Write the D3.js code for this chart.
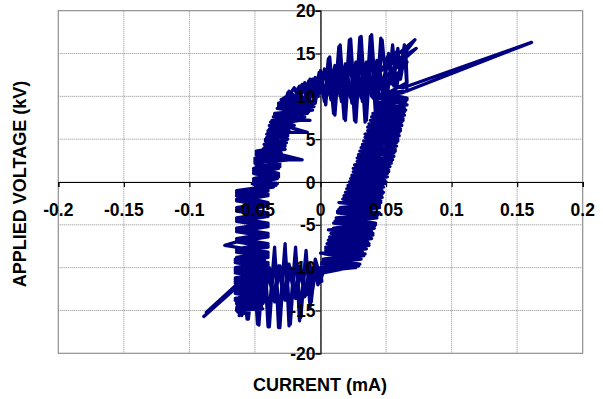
<!DOCTYPE html>
<html><head><meta charset="utf-8">
<script src="https://cdn.jsdelivr.net/npm/d3@7"></script>
<style>html,body{margin:0;padding:0;background:#fff;}svg{display:block;}</style>
</head><body>
<svg id="chart" width="603" height="399"></svg>
<script>
// Axis ticks
const xTicks = [-0.2, -0.15, -0.1, -0.05, 0, 0.05, 0.1, 0.15, 0.2];
const xTickLabels = ["-0.2", "-0.15", "-0.1", "-0.05", "0", "0.05", "0.1", "0.15", "0.2"];
const yTicks = [-20, -15, -10, -5, 0, 5, 10, 15, 20];
const yTickLabels = ["-20", "-15", "-10", "-5", "0", "5", "10", "15", "20"];
const xTitle = "CURRENT (mA)";
const yTitle = "APPLIED VOLTAGE (kV)";

const loop1 = [
 [-0.030,8.6],[-0.024,10.6],[-0.020,8.4],[-0.016,11.2],[-0.012,8.6],[-0.008,12.0],[-0.004,9.2],[0.000,13.0],[0.004,9.0],[0.007,14.6],[0.011,7.8],[0.015,16.0],[0.019,7.2],[0.023,16.7],[0.027,7.0],[0.031,17.0],[0.035,7.2],[0.039,17.2],[0.043,8.0],[0.047,16.6],[0.051,10.0],[0.055,16.0],[0.058,11.0],[0.064,16.0],[0.066,10.6],
 [0.047,10.4],[0.066,9.8],[0.043,9.2],[0.064,8.6],[0.040,8.0],[0.063,7.4],[0.037,6.8],[0.061,6.2],[0.034,5.6],[0.059,5.0],[0.032,4.4],[0.057,3.8],[0.029,3.2],[0.055,2.6],[0.026,2.0],[0.052,1.4],[0.024,0.8],[0.049,0.2],[0.021,-0.4],[0.047,-1.0],[0.018,-1.6],[0.046,-2.2],[0.014,-2.4],[0.045,-2.8],[0.013,-3.4],[0.043,-4.0],[0.011,-4.6],[0.041,-5.2],[0.006,-5.6],[0.039,-5.8],[0.007,-6.4],[0.036,-7.0],[0.004,-7.6],[0.032,-8.2],[0.000,-8.3],[0.030,-8.8],[0.001,-9.4],[0.026,-10.0],[0.000,-10.4],
 [-0.002,-12.0],[-0.004,-9.4],[-0.007,-14.0],[-0.011,-8.4],[-0.015,-15.8],[-0.019,-7.8],[-0.023,-16.6],[-0.027,-7.5],[-0.031,-17.0],[-0.035,-7.8],[-0.039,-16.9],[-0.043,-8.6],[-0.047,-16.7],[-0.051,-10.0],[-0.055,-16.0],[-0.059,-11.0],[-0.063,-15.2],
 [-0.045,-14.6],[-0.064,-14.0],[-0.043,-13.4],[-0.065,-12.8],[-0.042,-12.2],[-0.065,-11.6],[-0.041,-11.0],[-0.065,-10.4],[-0.040,-9.8],[-0.065,-9.2],[-0.040,-8.6],[-0.064,-8.0],[-0.040,-7.4],[-0.064,-6.8],[-0.040,-6.2],[-0.064,-5.6],[-0.040,-5.0],[-0.064,-4.4],[-0.040,-3.8],[-0.064,-3.2],[-0.040,-2.6],[-0.064,-2.0],[-0.040,-1.4],[-0.064,-1.0],[-0.034,-0.4],[-0.051,0.2],[-0.032,0.8],[-0.051,1.4],[-0.031,2.0],[-0.050,2.6],[-0.014,2.6],[-0.030,3.2],[-0.049,3.6],[-0.027,4.2],[-0.042,4.8],[-0.026,5.4],[-0.040,5.8],[-0.010,5.8],[-0.024,6.4],[-0.038,7.0],[-0.014,7.4],[-0.035,8.0],[-0.008,8.4],[-0.032,8.8],[-0.004,9.2],[-0.030,9.6]];

const loop2 = [
 [-0.028,9.2],[-0.020,11.0],[-0.016,9.4],[-0.012,11.6],[-0.008,9.8],[-0.004,12.2],[0.000,10.4],[0.003,13.2],[0.007,10.2],[0.011,13.6],[0.015,10.0],[0.019,13.8],[0.023,9.8],[0.027,14.0],[0.031,9.8],[0.035,14.0],[0.039,10.0],[0.043,14.2],[0.047,10.6],[0.051,14.6],[0.055,11.4],[0.058,15.2],[0.056,11.2],[0.063,11.0],[0.161,16.3],[0.062,10.4],
 [0.045,10.0],[0.065,9.4],[0.042,8.8],[0.064,8.2],[0.039,7.6],[0.062,7.0],[0.036,6.4],[0.060,5.8],[0.034,5.2],[0.058,4.6],[0.031,4.0],[0.056,3.4],[0.028,2.8],[0.054,2.2],[0.025,1.6],[0.051,1.0],[0.023,0.4],[0.049,-0.2],[0.020,-0.8],[0.047,-1.4],[0.017,-2.0],[0.045,-2.6],[0.014,-3.2],[0.044,-3.8],[0.012,-4.4],[0.042,-5.0],[0.009,-5.6],[0.040,-6.2],[0.006,-6.8],[0.037,-7.4],[0.004,-8.0],[0.033,-8.6],[0.002,-9.2],[0.029,-9.8],[0.002,-10.6],
 [-0.001,-11.8],[-0.003,-9.6],[-0.006,-12.6],[-0.007,-10.0],[-0.011,-13.2],[-0.015,-10.2],[-0.019,-13.6],[-0.023,-10.0],[-0.027,-13.8],[-0.031,-9.8],[-0.035,-14.0],[-0.039,-10.0],[-0.043,-14.0],[-0.047,-10.6],[-0.051,-14.6],[-0.054,-11.0],[-0.056,-11.2],[-0.089,-15.7],[-0.055,-11.0],[-0.087,-15.2],[-0.054,-10.6],[-0.062,-15.6],
 [-0.044,-14.2],[-0.065,-13.6],[-0.043,-13.0],[-0.065,-12.4],[-0.041,-11.8],[-0.065,-11.2],[-0.040,-10.6],[-0.065,-10.0],[-0.040,-9.4],[-0.064,-8.8],[-0.040,-8.2],[-0.073,-7.4],[-0.064,-7.0],[-0.040,-6.4],[-0.064,-5.8],[-0.040,-5.2],[-0.064,-4.6],[-0.040,-4.0],[-0.064,-3.4],[-0.040,-2.8],[-0.064,-2.2],[-0.040,-1.6],[-0.064,-1.2],[-0.036,-0.6],[-0.051,0.0],[-0.032,0.6],[-0.051,1.2],[-0.031,1.8],[-0.048,1.6],[-0.050,2.4],[-0.030,3.0],[-0.049,3.4],[-0.027,3.8],[-0.043,4.4],[-0.025,5.0],[-0.041,5.6],[-0.024,6.0],[-0.039,6.6],[-0.016,7.2],[-0.008,7.2],[-0.036,7.6],[-0.010,8.0],[-0.033,8.6],[-0.005,8.8],[-0.030,9.4]];

const loop3 = [
 [-0.026,9.8],[-0.025,10.4],[-0.021,9.0],[-0.017,11.0],[-0.013,9.0],[-0.009,11.8],[-0.005,9.8],[-0.001,12.8],[0.003,9.4],[0.006,14.4],[0.010,8.0],[0.014,15.8],[0.018,7.4],[0.022,16.6],[0.026,7.2],[0.030,16.9],[0.034,7.0],[0.038,17.0],[0.042,7.8],[0.046,16.8],[0.044,11.0],[0.072,16.6],[0.040,12.4],[0.073,15.6],[0.054,13.0],[0.066,14.0],
 [0.046,10.2],[0.066,9.6],[0.043,9.0],[0.065,8.4],[0.040,7.8],[0.063,7.2],[0.037,6.6],[0.061,6.0],[0.035,5.4],[0.059,4.8],[0.032,4.2],[0.057,3.6],[0.029,3.0],[0.054,2.4],[0.027,1.8],[0.052,1.2],[0.024,0.6],[0.050,0.0],[0.021,-0.6],[0.048,-1.2],[0.018,-1.8],[0.046,-2.4],[0.015,-3.0],[0.045,-3.6],[0.012,-4.2],[0.042,-4.8],[0.010,-5.4],[0.040,-6.0],[0.007,-6.6],[0.037,-7.2],[0.004,-7.8],[0.034,-8.4],[0.002,-9.0],[0.030,-9.6],[0.000,-10.0],
 [0.001,-11.6],[-0.004,-9.0],[-0.008,-14.6],[-0.011,-8.0],[-0.016,-16.2],[-0.019,-7.6],[-0.024,-16.8],[-0.027,-7.2],[-0.032,-17.0],[-0.035,-7.6],[-0.040,-16.9],[-0.043,-8.8],[-0.048,-16.6],[-0.051,-10.2],[-0.056,-16.0],[-0.059,-11.6],[-0.064,-14.8],
 [-0.045,-14.4],[-0.065,-13.8],[-0.043,-13.2],[-0.065,-12.6],[-0.042,-12.0],[-0.065,-11.4],[-0.041,-10.8],[-0.065,-10.2],[-0.040,-9.6],[-0.065,-9.0],[-0.040,-8.4],[-0.064,-7.8],[-0.040,-7.2],[-0.064,-6.6],[-0.040,-6.0],[-0.064,-5.4],[-0.040,-4.8],[-0.064,-4.2],[-0.040,-3.6],[-0.064,-3.0],[-0.040,-2.4],[-0.064,-1.6],[-0.040,-1.0],[-0.052,-0.2],[-0.033,0.4],[-0.051,1.0],[-0.032,1.6],[-0.050,2.2],[-0.022,2.6],[-0.031,2.8],[-0.049,3.2],[-0.029,3.8],[-0.043,4.0],[-0.026,4.6],[-0.041,5.2],[-0.025,5.6],[-0.040,5.5],[-0.039,6.2],[-0.020,6.6],[-0.037,7.2],[-0.012,7.6],[-0.034,8.0],[-0.006,8.4],[-0.032,9.0],[-0.004,9.4],[-0.026,9.8]];

const loop4 = [
 [-0.030,9.6],[-0.022,10.4],[-0.018,9.4],[-0.014,11.4],[-0.010,9.6],[-0.006,12.0],[-0.002,10.0],[0.004,13.0],[0.008,9.6],[0.012,13.4],[0.016,9.4],[0.020,13.2],[0.024,9.2],[0.028,13.6],[0.032,9.4],[0.036,13.8],[0.040,9.8],[0.044,14.0],[0.048,10.8],[0.052,15.0],[0.055,11.4],[0.059,15.6],[0.061,12.0],[0.065,15.4],[0.066,11.6],
 [0.044,9.8],[0.066,9.0],[0.042,8.4],[0.064,7.8],[0.038,7.2],[0.062,6.6],[0.036,6.0],[0.060,5.4],[0.033,4.8],[0.058,4.2],[0.030,3.6],[0.056,3.0],[0.028,2.4],[0.053,1.8],[0.025,1.2],[0.051,0.6],[0.022,0.0],[0.048,-0.6],[0.019,-1.2],[0.047,-1.8],[0.016,-2.4],[0.045,-3.0],[0.013,-3.6],[0.043,-4.2],[0.010,-4.8],[0.041,-5.4],[0.008,-6.0],[0.039,-6.6],[0.005,-7.2],[0.035,-7.8],[0.003,-8.4],[0.031,-9.0],[0.001,-9.6],[0.027,-10.0],[0.003,-10.2],
 [-0.002,-12.0],[-0.004,-9.8],[-0.008,-12.8],[-0.008,-9.6],[-0.012,-13.4],[-0.016,-9.8],[-0.020,-13.4],[-0.024,-9.6],[-0.028,-13.6],[-0.032,-9.8],[-0.036,-13.8],[-0.040,-10.2],[-0.044,-14.2],[-0.048,-10.6],[-0.052,-14.8],[-0.056,-11.4],[-0.060,-15.6],[-0.064,-15.0],
 [-0.044,-14.8],[-0.064,-14.2],[-0.044,-13.6],[-0.065,-13.0],[-0.042,-12.4],[-0.065,-11.8],[-0.041,-11.2],[-0.065,-10.6],[-0.040,-10.0],[-0.065,-9.4],[-0.040,-8.8],[-0.064,-8.2],[-0.040,-7.6],[-0.064,-7.0],[-0.040,-6.4],[-0.064,-5.8],[-0.040,-5.2],[-0.064,-4.6],[-0.040,-4.0],[-0.064,-3.4],[-0.040,-2.8],[-0.064,-2.2],[-0.040,-1.6],[-0.064,-1.4],[-0.046,-1.0],[-0.033,-0.2],[-0.051,0.4],[-0.032,1.0],[-0.051,1.6],[-0.031,2.2],[-0.050,2.8],[-0.030,3.4],[-0.044,3.8],[-0.027,4.4],[-0.042,5.0],[-0.025,5.4],[-0.040,6.0],[-0.022,6.4],[-0.037,7.0],[-0.013,7.4],[-0.035,7.8],[-0.009,8.2],[-0.033,8.6],[-0.006,9.0],[-0.032,9.2]];

const trace = loop1.concat(loop2, loop3, loop4);

const svg = d3.select("#chart");
const L = 58.3, R = 582.7, T = 10.7, B = 353.3;
const x = d3.scaleLinear().domain([-0.2, 0.2]).range([L, R]);
const y = d3.scaleLinear().domain([-20, 20]).range([B, T]);
const font = "'Liberation Sans', Arial, sans-serif";

svg.append("rect").attr("width", 603).attr("height", 399).attr("fill", "#fff");

// gridlines
const grid = svg.append("g");
grid.selectAll("line.v").data(xTicks).join("line").attr("class","v")
  .attr("x1", d => x(d)).attr("x2", d => x(d)).attr("y1", T).attr("y2", B)
  .attr("stroke", "#8c8c8c").attr("stroke-width", 1).attr("stroke-dasharray", "1,1");
grid.selectAll("line.h").data(yTicks).join("line").attr("class","h")
  .attr("x1", L).attr("x2", R).attr("y1", d => y(d)).attr("y2", d => y(d))
  .attr("stroke", "#8c8c8c").attr("stroke-width", 1).attr("stroke-dasharray", "1,1");
svg.append("rect").attr("x", L).attr("y", T).attr("width", R - L).attr("height", B - T)
  .attr("fill", "none").attr("stroke", "#8c8c8c").attr("stroke-width", 1);

// axes through zero
const xAxis = d3.axisBottom(x).tickValues(xTicks).tickSize(5).tickFormat("");
const yAxis = d3.axisLeft(y).tickValues(yTicks).tickSize(5).tickFormat("");
const gx = svg.append("g").attr("transform", `translate(0,${y(0)})`).call(xAxis);
const gy = svg.append("g").attr("transform", `translate(${x(0)},0)`).call(yAxis);
[gx, gy].forEach(g => { g.selectAll("path,line").attr("stroke", "#000").attr("stroke-width", 1.2); });

// trace
svg.append("path").datum(trace)
  .attr("d", d3.line().x(d => x(d[0])).y(d => y(d[1])))
  .attr("fill", "none").attr("stroke", "#000080").attr("stroke-width", 3.3)
  .attr("stroke-linejoin", "round").attr("stroke-linecap", "round");

// tick labels
svg.append("g").selectAll("text").data(xTicks).join("text")
  .attr("x", d => x(d)).attr("y", y(0) + 34)
  .attr("text-anchor", "middle").attr("font-family", font).attr("font-weight", "bold")
  .attr("font-size", 17.5).attr("fill", "#000")
  .text((d, i) => xTickLabels[i]);
svg.append("g").selectAll("text").data(yTicks).join("text")
  .attr("x", x(0) - 5).attr("y", d => y(d) + 6.5)
  .attr("text-anchor", "end").attr("font-family", font).attr("font-weight", "bold")
  .attr("font-size", 17.5).attr("fill", "#000")
  .text((d, i) => yTickLabels[i]);

// titles
svg.append("text").attr("x", 320).attr("y", 391).attr("text-anchor", "middle")
  .attr("font-family", font).attr("font-weight", "bold").attr("font-size", 18).text(xTitle);
svg.append("text").attr("transform", "translate(26,184) rotate(-90)").attr("text-anchor", "middle")
  .attr("font-family", font).attr("font-weight", "bold").attr("font-size", 18).text(yTitle);
</script>
</body></html>
